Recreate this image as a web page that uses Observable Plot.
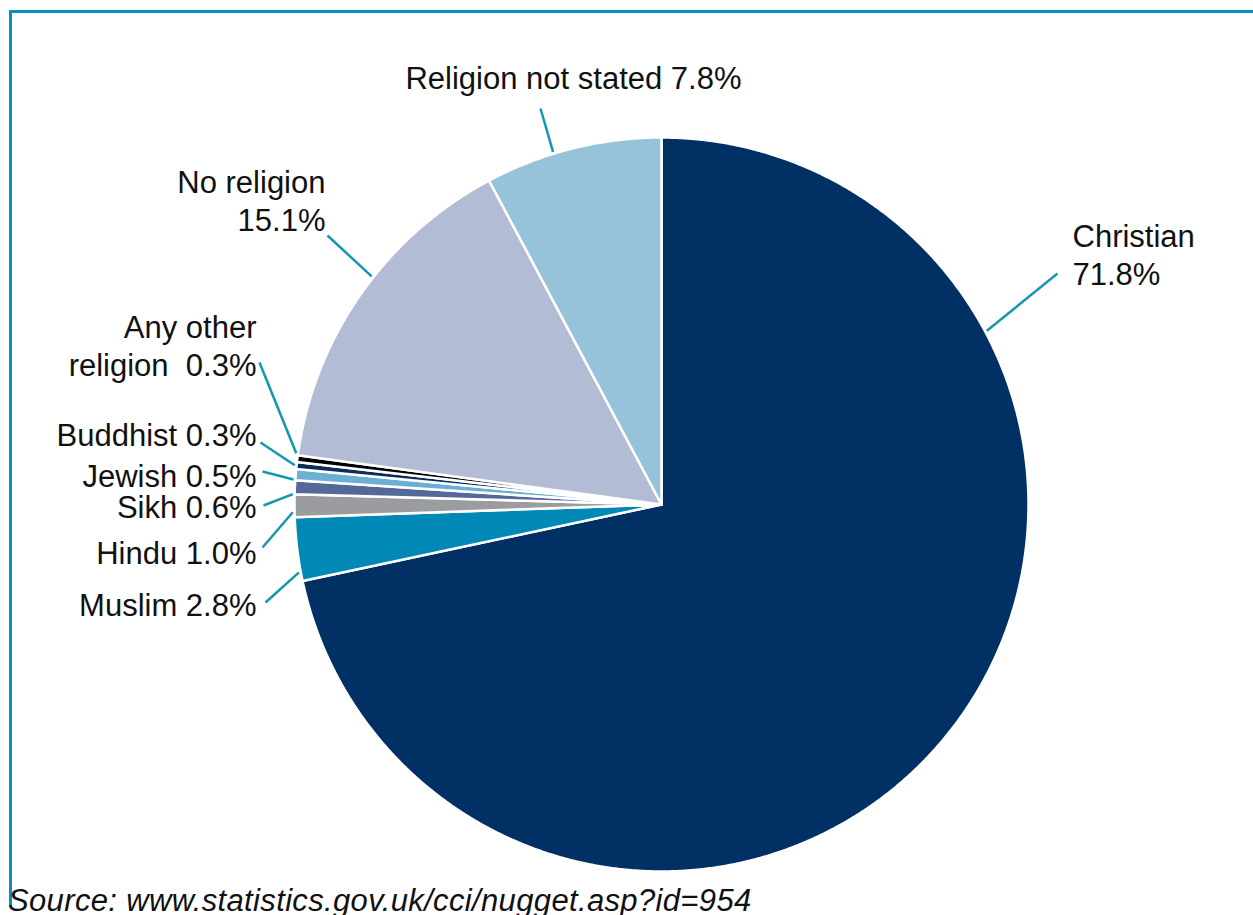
<!DOCTYPE html>
<html>
<head>
<meta charset="utf-8">
<script src="https://cdn.jsdelivr.net/npm/d3@7"></script>
<script src="https://cdn.jsdelivr.net/npm/@observablehq/plot@0.6"></script>
<style>
  html, body { margin: 0; padding: 0; background: #fff; }
  #wrap { position: relative; width: 1253px; height: 915px; overflow: hidden; }
  #frame { position: absolute; left: 9px; top: 10px; width: 1300px; height: 896px;
           border-top: 3px solid #0b8ebf; border-left: 3px solid #0b8ebf; box-sizing: border-box; }
  #chart { position: absolute; left: 0; top: 0; }
  #source { position: absolute; left: 8px; top: 885px; font: italic 31px "Liberation Sans", Arial, sans-serif;
            line-height: 31px; color: #111; white-space: nowrap; letter-spacing: 0.35px; }
</style>
</head>
<body>
<div id="wrap">
  <div id="frame"></div>
  <div id="chart"></div>
  <div id="source">Source: www.statistics.gov.uk/cci/nugget.asp?id=954</div>
</div>
<script>
// ---- data ----
const religions = ["Christian", "Muslim", "Hindu", "Sikh", "Jewish", "Buddhist", "Any other religion", "No religion", "Religion not stated"];
const shares = [71.8, 2.8, 1.0, 0.6, 0.5, 0.3, 0.3, 15.1, 7.8];
const sliceColors = ["#003064", "#0088b6", "#9b9c9f", "#55689a", "#6bb0d3", "#0b2d5c", "#000000", "#b3bcd5", "#96c2da"];
const labelNames = ["Christian\n", "Muslim ", "Hindu ", "Sikh ", "Jewish ", "Buddhist ", "Any other\nreligion\u00a0 ", "No religion\n", "Religion not stated "];

// ---- layout ----
const W = 1253, H = 880;
const cx = 661, cy = 504, R = 367;
// leader inner angle (deg clockwise from top) and label anchor (x, y baseline of last line)
const leaderAngle = [61.9, 259.4, 268.8, 271.6, 273.9, 276.1, 278.0, 308.2, 342.9];
const leaderEndX = [1057, 265, 262, 263, 262, 260, 259, 327, 540];
const leaderEndY = [273, 602, 547, 505, 471, 442, 362, 235, 108];
const labelX = [1072, 256, 256, 256, 256, 256, 256, 325, 573];
const labelY = [284, 615, 563, 517, 486, 445, 375, 230, 88];
const labelAnchor = ["start", "end", "end", "end", "end", "end", "end", "end", "middle"];

const total = d3.sum(shares);
const toRad = Math.PI / 180;

// build slice polygons from data
const slicePts = [];
let acc = 0;
religions.forEach((name, i) => {
  const a0 = acc / total * 360;
  acc += shares[i];
  const a1 = acc / total * 360;
  slicePts.push({name, color: sliceColors[i], x: cx, y: cy});
  const steps = Math.max(2, Math.ceil((a1 - a0) / 0.25));
  for (let k = 0; k <= steps; ++k) {
    const a = (a0 + (a1 - a0) * k / steps) * toRad;
    slicePts.push({name, color: sliceColors[i], x: cx + R * Math.sin(a), y: cy - R * Math.cos(a)});
  }
  slicePts.push({name, color: sliceColors[i], x: cx, y: cy});
});

const leaders = religions.map((name, i) => {
  const a = leaderAngle[i] * toRad;
  return {name, x1: cx + R * 1.005 * Math.sin(a), y1: cy - R * 1.005 * Math.cos(a), x2: leaderEndX[i], y2: leaderEndY[i]};
});

const labels = religions.map((name, i) => ({
  text: labelNames[i] + shares[i].toFixed(1) + "%",
  x: labelX[i], y: labelY[i], anchor: labelAnchor[i]
}));

const chart = Plot.plot({
  width: W, height: H,
  margin: 0,
  x: {domain: [0, W], range: [0, W], axis: null},
  y: {domain: [0, H], range: [0, H], axis: null},
  color: {type: "identity"},
  style: {background: "transparent", fontFamily: "'Liberation Sans', Arial, sans-serif", fontSize: "31px", color: "#111"},
  marks: [
    Plot.line(slicePts, {x: "x", y: "y", z: "name", fill: "color", stroke: "white", strokeWidth: 2.5, strokeLinejoin: "round", curve: "linear"}),
    Plot.link(leaders, {x1: "x1", y1: "y1", x2: "x2", y2: "y2", stroke: "#1597b2", strokeWidth: 2.5}),
    ...["start", "middle", "end"].map(anchor =>
      Plot.text(labels.filter(d => d.anchor === anchor), {
        x: "x", y: "y", text: "text", textAnchor: anchor, lineAnchor: "bottom",
        lineHeight: 1.2, fontSize: 31, fill: "#111"
      }))
  ]
});
document.getElementById("chart").appendChild(chart);
</script>
</body>
</html>
